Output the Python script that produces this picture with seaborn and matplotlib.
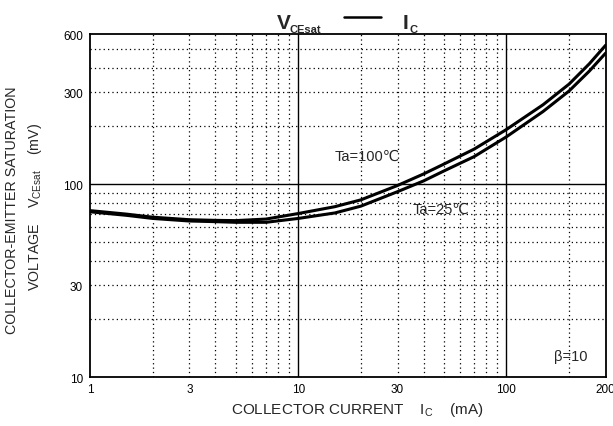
import numpy as np
import pandas as pd
import seaborn as sns
import matplotlib
matplotlib.use("Agg")
import matplotlib.pyplot as plt
from matplotlib.lines import Line2D

# collector current (mA) and saturation voltage (mV)
current = [1, 1.5, 2, 3, 4, 5, 7, 10, 15, 20, 30, 40, 50, 70, 100, 150, 200, 250, 300]
vce_100 = [73, 70, 67.5, 65.5, 65, 64.8, 66, 70.5, 76.5, 83, 98.5, 113, 127, 152, 192, 258, 330, 420, 525]
vce_25 = [72, 69, 66.5, 64.5, 64, 63.5, 63.5, 66.5, 71, 77, 91.5, 104, 117, 139, 176, 238, 304, 385, 478]

x_ticks = [1, 3, 10, 30, 100, 300]
x_tick_labels = ["1", "3", "10", "30", "100", "200"]
y_ticks = [10, 30, 100, 300, 600]
y_tick_labels = ["10", "30", "100", "300", "600"]

sns.set_theme(style="white")
plt.rcParams["font.family"] = ["Liberation Sans", "DejaVu Sans"]
plt.rcParams["mathtext.fontset"] = "custom"
plt.rcParams["mathtext.rm"] = "Liberation Sans"
plt.rcParams["mathtext.it"] = "Liberation Sans"
plt.rcParams["mathtext.bf"] = "Liberation Sans:bold"

data = pd.concat([
    pd.DataFrame({"Ic": current, "Vce": vce_100, "Ta": "100"}),
    pd.DataFrame({"Ic": current, "Vce": vce_25, "Ta": "25"}),
])

fig = plt.figure(figsize=(6.13, 4.27), dpi=100)
ax = fig.add_axes([90 / 613, 1 - 378.3 / 427, 515.7 / 613, 343.3 / 427])

ax.set_xscale("log")
ax.set_yscale("log")
ax.set_xlim(1, 300)
ax.set_ylim(10, 600)

# grid: dotted for sub-decades, solid at decades
for d in range(3):
    for m in range(2, 10):
        v = m * 10 ** d
        if v < 300:
            ax.axvline(v, color="black", lw=0.9, ls=(0, (1, 2.5)), zorder=1)
for d in (1, 2):
    for m in range(2, 10):
        v = m * 10 ** d
        if v < 600:
            ax.axhline(v, color="black", lw=0.9, ls=(0, (1, 2.5)), zorder=1)
for v in (10, 100):
    ax.axvline(v, color="black", lw=1.0, zorder=1)
ax.axhline(100, color="black", lw=1.0, zorder=1)

sns.lineplot(data=data, x="Ic", y="Vce", hue="Ta", palette=["black", "black"],
             lw=2.2, legend=False, ax=ax, zorder=3)

ax.set_xticks(x_ticks)
ax.set_xticklabels(x_tick_labels)
ax.set_yticks(y_ticks)
ax.set_yticklabels(y_tick_labels)
ax.minorticks_off()
ax.tick_params(axis="both", which="major", length=0, labelsize=8.5, colors="black")
ax.tick_params(axis="x", pad=4)
ax.tick_params(axis="y", pad=5)
ax.set_xlabel("")
ax.set_ylabel("")

for s in ax.spines.values():
    s.set_color("black")
    s.set_linewidth(1.3)

ax.text(15, 140, "Ta=100\u2103", fontsize=10.5, va="center", ha="left")
ax.text(35.5, 74.4, "Ta=25\u2103", fontsize=10.5, va="center", ha="left")
ax.text(169, 12.9, "\u03b2=10", fontsize=10.5, va="center", ha="left")

# title V_CEsat —— I_C
fig.text(277 / 613, 1 - 29.4 / 427, "V", fontsize=15, fontweight="bold",
         ha="left", va="baseline")
fig.text(289 / 613, 1 - 33 / 427, "CEsat", fontsize=8, fontweight="bold",
         ha="left", va="baseline")
fig.add_artist(Line2D([344 / 613, 381 / 613], [1 - 18.4 / 427, 1 - 18.4 / 427],
                      color="black", lw=1.8, transform=fig.transFigure))
fig.text(403 / 613, 1 - 29.4 / 427, "I", fontsize=15, fontweight="bold",
         ha="left", va="baseline")
fig.text(410 / 613, 1 - 33 / 427, "C", fontsize=8, fontweight="bold",
         ha="left", va="baseline")

fig.text(12 / 613, 1 - 210 / 427, "COLLECTOR-EMITTER SATURATION", rotation=90,
         fontsize=10.3, ha="center", va="center")
fig.text(35 / 613, 1 - 207 / 427, r"VOLTAGE    V$_{\mathrm{CEsat}}$    (mV)", rotation=90,
         fontsize=10.3, ha="center", va="center")
fig.text(357 / 613, 1 - 410 / 427, r"COLLECTOR CURRENT    I$_{\mathrm{C}}$    (mA)",
         fontsize=11, ha="center", va="center")

fig.savefig("out.png", dpi=100)
